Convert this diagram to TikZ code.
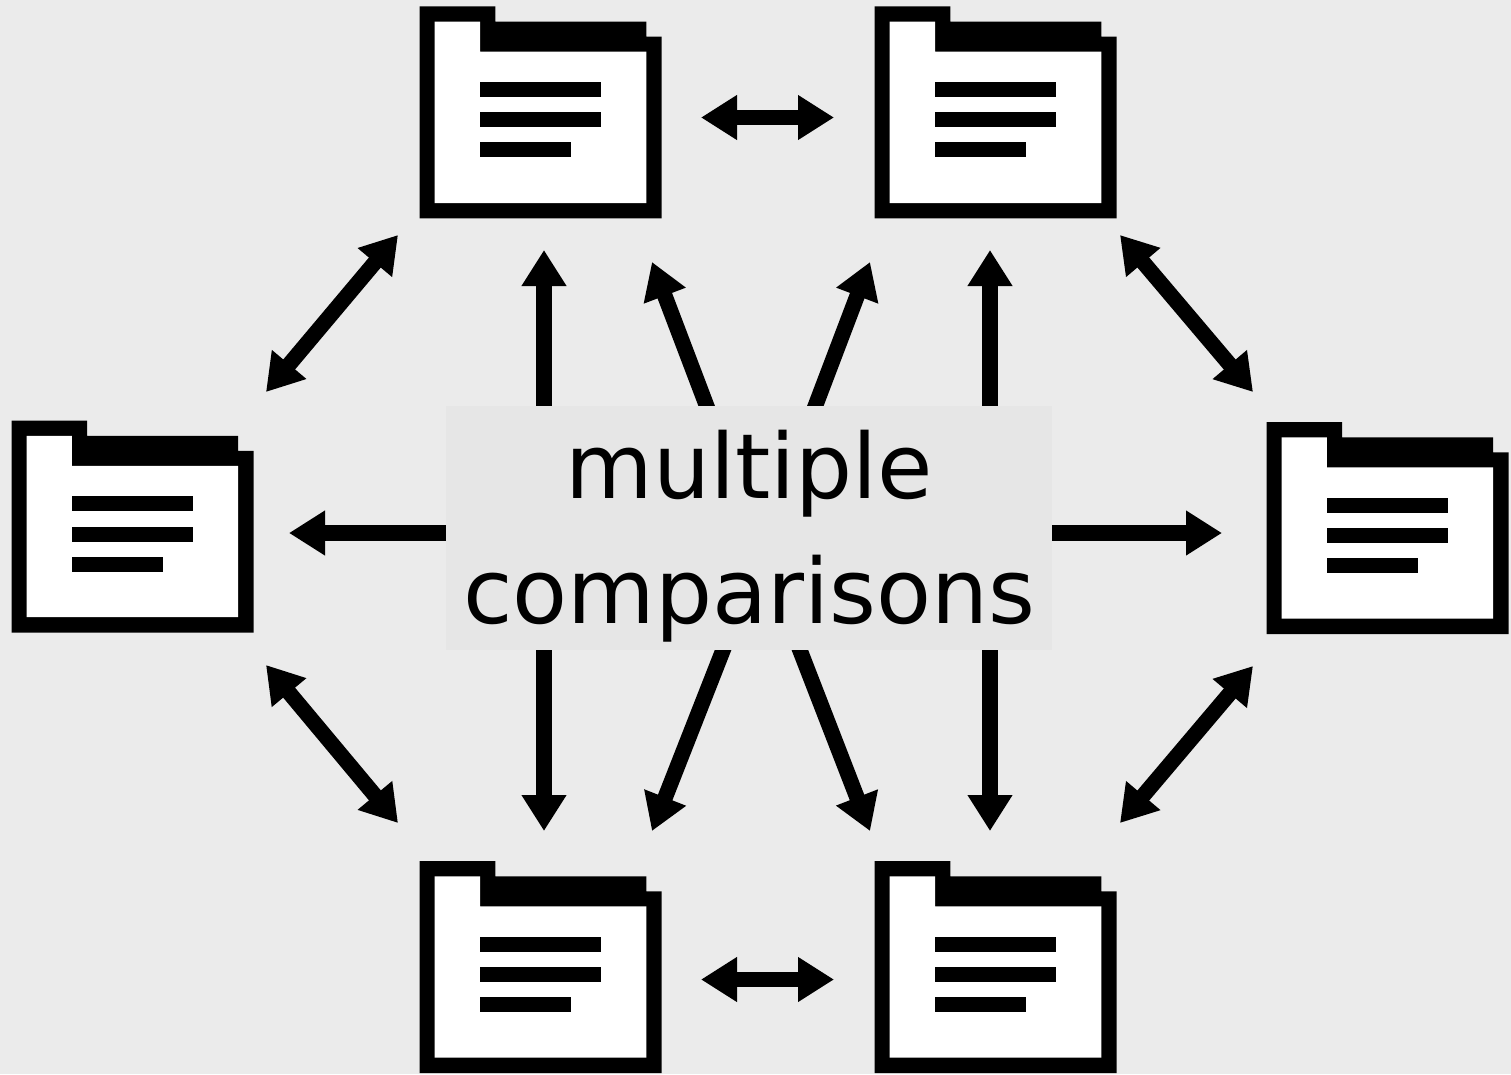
\documentclass[tikz,border=0pt]{standalone}
\usepackage{fontspec}
\setmainfont{DejaVu Sans}
\usetikzlibrary{arrows.meta}
\definecolor{bgc}{HTML}{EBEBEB}
\definecolor{boxc}{HTML}{E6E6E6}
\tikzset{
  x=1pt,y=-1pt,
  link/.style={line width=15.5pt,draw=black,-{Triangle[length=36pt,width=42.5pt]}},
  linkboth/.style={line width=15.5pt,draw=black,{Triangle[length=36pt,width=42.5pt]}-{Triangle[length=36pt,width=42.5pt]}},
  centerbox/.style={fill=boxc,draw=none,minimum width=606pt,minimum height=244pt,inner sep=0pt},
  centertext/.style={inner sep=0pt,align=center,font=\fontsize{90}{125.5}\selectfont},
}
\newcommand{\foldericon}[3]{%
  \begin{scope}[shift={(#2,#3)}]
    \fill[black] (0,0)--(75.6,0)--(75.6,15.4)--(226.6,15.4)--(226.6,30.4)--(242,30.4)--(242,212)--(0,212)--cycle;
    \fill[white] (15,15.4)--(60.3,15.4)--(60.3,45.4)--(226.6,45.4)--(226.6,196.7)--(15,196.7)--cycle;
    \fill[black] (60.3,75.7) rectangle (181.3,90.7);
    \fill[black] (60.3,106) rectangle (181.3,121);
    \fill[black] (60.3,136) rectangle (151,151);
    \coordinate (#1) at (121,106);
  \end{scope}}
\begin{document}
\begin{tikzpicture}
\useasboundingbox (0,0) rectangle (1511,1074);
\fill[bgc] (0,0) rectangle (1511,1074);
\foldericon{ftl}{419.7}{6.3}
\foldericon{ftr}{874.7}{6.3}
\foldericon{fl}{11.5}{420.5}
\foldericon{fr}{1266.5}{422}
\foldericon{fbl}{419.7}{861}
\foldericon{fbr}{874.7}{861}
% free ends
\coordinate (a1) at (701,117.5); \coordinate (a2) at (834,117.5);
\coordinate (b1) at (701,979.5); \coordinate (b2) at (834,979.5);
\coordinate (c1) at (398,235); \coordinate (c2) at (266,392);
\coordinate (d1) at (1120,235); \coordinate (d2) at (1253,392);
\coordinate (e1) at (266,665); \coordinate (e2) at (398,823);
\coordinate (f1) at (1253,666); \coordinate (f2) at (1120,823);
\coordinate (u1s) at (544,420); \coordinate (u1) at (544,250);
\coordinate (u2s) at (712,420); \coordinate (u2) at (652,262);
\coordinate (u3s) at (810,420); \coordinate (u3) at (870,262);
\coordinate (u4s) at (990,420); \coordinate (u4) at (990,250);
\coordinate (ls) at (460,533); \coordinate (l) at (289,533);
\coordinate (rs) at (1040,533); \coordinate (r) at (1222,533);
\coordinate (d1s) at (544,640); \coordinate (dd1) at (544,831);
\coordinate (d2s) at (727,640); \coordinate (dd2) at (652,831);
\coordinate (d3s) at (796,640); \coordinate (dd3) at (870,831);
\coordinate (d4s) at (990,640); \coordinate (dd4) at (990,831);
\foreach \p/\q in {a1/a2,b1/b2,c1/c2,d1/d2,e1/e2,f1/f2}
  \draw[linkboth] (\p) -- (\q);
\foreach \p/\q in {u1s/u1,u2s/u2,u3s/u3,u4s/u4,ls/l,rs/r,d1s/dd1,d2s/dd2,d3s/dd3,d4s/dd4}
  \draw[link] (\p) -- (\q);
\node[centerbox] (mc) at (749,528) {};
\node[centertext] (mt) at (749.5,536) {multiple\\comparisons};
\end{tikzpicture}
\end{document}
